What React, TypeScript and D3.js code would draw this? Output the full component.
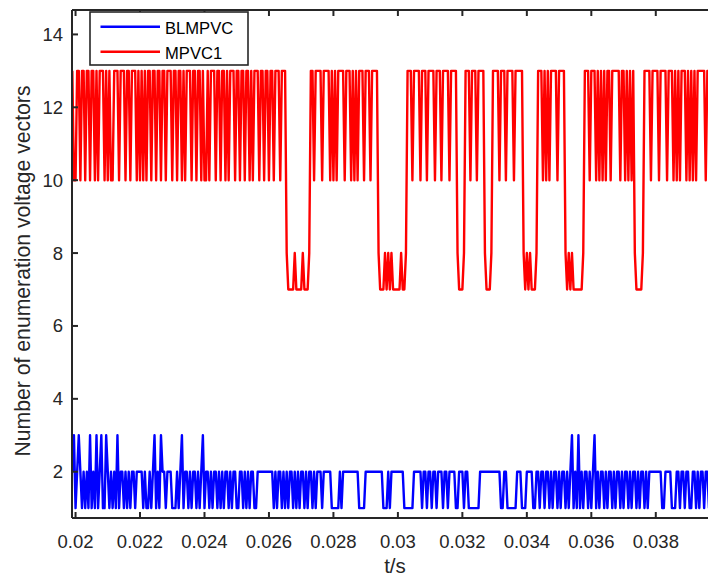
import React from "react";
import * as d3 from "d3";

// time axis: uniform sampling
const tStart = 0.0199;
const tStep = 0.00005;

const blmpvc = [
  2,3,1,2,3,2,1,2,1,2,
  1,3,1,2,1,3,1,2,3,1,
  1,3,2,1,2,1,2,1,3,1,
  2,2,1,2,1,2,1,2,2,1,
  2,2,2,2,1,2,1,1,2,1,
  2,3,1,2,1,3,2,2,1,2,
  2,2,1,1,1,2,1,2,3,1,
  2,2,1,2,1,2,2,1,2,1,
  2,3,1,2,2,1,2,1,2,2,
  1,2,1,2,1,2,2,1,2,1,
  2,2,1,1,2,2,1,2,1,2,
  1,2,2,1,1,2,2,2,2,2,
  2,2,2,2,2,1,2,1,2,2,
  1,2,1,2,1,2,2,1,2,1,
  2,1,2,2,1,2,1,2,2,1,
  2,1,2,2,2,1,2,2,2,2,
  2,1,1,1,1,1,2,1,2,2,
  2,2,2,2,2,2,2,2,1,1,
  1,1,2,2,2,2,2,2,2,2,
  2,2,2,1,1,1,2,1,2,2,
  2,2,2,2,2,2,1,1,1,1,
  1,1,2,2,2,2,2,1,2,2,
  1,2,2,1,2,2,1,2,2,2,
  1,2,2,1,2,2,2,2,1,1,
  2,2,2,1,2,2,1,1,1,1,
  1,1,1,2,2,2,2,2,2,2,
  2,2,2,2,2,2,1,1,2,2,
  1,1,1,1,1,1,2,2,2,1,
  1,1,2,2,2,2,1,1,2,2,
  1,2,2,1,2,2,1,2,1,2,
  2,1,2,1,2,2,1,2,1,2,
  3,1,2,1,3,1,2,1,2,2,
  1,2,1,2,3,1,2,1,2,2,
  1,2,1,2,2,1,2,1,2,2,
  1,2,1,2,2,1,2,1,2,2,
  1,2,1,2,2,1,2,1,2,2,
  2,2,2,2,2,2,1,1,2,2,
  2,2,1,1,1,2,2,1,2,2,
  1,2,2,1,1,2,2,1,2,1,
  2,2,1,2,2,1,
];

const mpvc1 = [
  13,10,10,13,13,10,13,13,10,13,
  13,10,13,13,10,13,10,13,13,13,
  10,13,10,13,10,10,13,13,13,10,
  13,13,13,10,13,13,10,13,13,13,
  10,13,10,13,10,13,10,13,13,10,
  13,13,10,13,13,10,13,13,10,13,
  13,13,10,13,13,10,13,13,10,13,
  10,13,13,13,10,13,13,10,13,13,
  10,13,10,10,13,10,13,13,13,10,
  13,13,10,13,13,10,13,10,13,13,
  13,10,13,13,10,13,13,10,13,13,
  10,13,10,13,13,13,10,13,13,10,
  13,13,10,13,13,10,13,13,13,10,
  13,13,13,8,7,7,7,7,8,7,
  7,7,7,8,7,7,7,8,13,13,
  10,13,13,13,13,10,13,13,13,13,
  10,13,10,13,10,13,13,13,13,10,
  13,13,13,10,13,10,13,10,13,13,
  13,10,13,13,13,10,13,13,13,13,
  8,7,7,7,8,7,8,7,8,7,
  7,7,7,7,8,7,7,8,13,13,
  13,10,13,13,13,13,10,13,13,13,
  10,13,13,13,13,10,13,13,13,10,
  13,13,13,13,10,13,13,13,13,8,
  7,7,7,8,13,13,13,10,13,13,
  13,10,13,13,13,13,8,7,7,7,
  8,13,13,13,13,10,13,13,13,10,
  13,13,13,13,10,13,13,13,13,13,
  8,7,8,7,8,7,7,7,8,13,
  13,13,10,13,10,13,10,13,13,13,
  13,10,13,13,13,13,8,7,8,7,
  8,7,7,7,7,7,7,8,13,13,
  13,10,13,13,13,10,13,10,13,10,
  13,10,13,13,10,13,13,13,13,13,
  10,13,13,10,13,10,13,10,13,8,
  7,7,7,7,8,13,13,13,13,10,
  13,13,13,13,10,13,13,13,13,10,
  13,13,13,10,13,10,13,10,13,13,
  13,10,13,10,13,10,13,10,13,13,
  13,13,13,10,13,13,
];

const seriesNames = ["BLMPVC", "MPVC1"];
const seriesColors = ["#0000ff", "#ff0000"];
const xTicks = [0.02, 0.022, 0.024, 0.026, 0.028, 0.03, 0.032, 0.034, 0.036, 0.038];
const xTickLabels = ["0.02", "0.022", "0.024", "0.026", "0.028", "0.03", "0.032", "0.034", "0.036", "0.038"];
const yTicks = [2, 4, 6, 8, 10, 12, 14];
const xLabel = "t/s";
const yLabel = "Number of enumeration voltage vectors";

const FONT = "'Liberation Sans', Arial, Helvetica, sans-serif";
const AX = "#262626";

export default function App() {
  const W = 708, H = 577;
  const L = 72, R = 718, T = 10, B = 518;
  const x = d3.scaleLinear().domain([0.01989, 0.03993]).range([L, R]);
  const y = d3.scaleLinear().domain([0.73, 14.67]).range([B, T]);
  const line = d3
    .line<number>()
    .x((_, i) => x(tStart + i * tStep))
    .y((d) => y(d));
  const series = [blmpvc, mpvc1];
  const tickLen = 6;

  return (
    <svg
      width={W}
      height={H}
      viewBox={`0 0 ${W} ${H}`}
      style={{ position: "absolute", left: 0, top: 0, display: "block", background: "#fff" }}
    >
      <rect x={0} y={0} width={W} height={H} fill="#fff" />
      <defs>
        <clipPath id="plotclip">
          <rect x={L} y={T} width={R - L} height={B - T} />
        </clipPath>
      </defs>
      <g clipPath="url(#plotclip)">
        {series.map((s, k) => (
          <path
            key={k}
            d={line(s) || ""}
            fill="none"
            stroke={seriesColors[k]}
            strokeWidth={2.4}
            strokeLinejoin="round"
          />
        ))}
      </g>
      {/* axes box */}
      <g stroke={AX} strokeWidth={2} fill="none">
        <line x1={L} y1={T} x2={L} y2={B} />
        <line x1={L} y1={B} x2={R} y2={B} />
        <line x1={L} y1={T} x2={R} y2={T} />
        <line x1={R} y1={T} x2={R} y2={B} />
        {xTicks.map((t, i) => (
          <g key={"xt" + i}>
            <line x1={x(t)} x2={x(t)} y1={B} y2={B - tickLen} />
            <line x1={x(t)} x2={x(t)} y1={T} y2={T + tickLen} />
          </g>
        ))}
        {yTicks.map((v, i) => (
          <g key={"yt" + i}>
            <line x1={L} x2={L + tickLen} y1={y(v)} y2={y(v)} />
            <line x1={R} x2={R - tickLen} y1={y(v)} y2={y(v)} />
          </g>
        ))}
      </g>
      <g fontFamily={FONT} fontSize={18.5} fill={AX}>
        {xTicks.map((t, i) => (
          <text key={"xl" + i} x={x(t)} y={548} textAnchor="middle">
            {xTickLabels[i]}
          </text>
        ))}
        {yTicks.map((v, i) => (
          <text key={"yl" + i} x={63} y={y(v)} textAnchor="end" dominantBaseline="central">
            {String(v)}
          </text>
        ))}
      </g>
      <text x={(L + R) / 2} y={573} textAnchor="middle" fontFamily={FONT} fontSize={20.5} fill={AX}>
        {xLabel}
      </text>
      <text
        transform={`translate(30, 271) rotate(-90)`}
        textAnchor="middle"
        fontFamily={FONT}
        fontSize={21.2}
        fill={AX}
      >
        {yLabel}
      </text>
      {/* legend */}
      <g>
        <rect x={90} y={12} width={158} height={53} fill="#fff" stroke={AX} strokeWidth={1.6} />
        {seriesNames.map((n, k) => (
          <g key={"lg" + k}>
            <line
              x1={100.5}
              x2={160}
              y1={26.7 + k * 25}
              y2={26.7 + k * 25}
              stroke={seriesColors[k]}
              strokeWidth={2.4}
            />
            <text x={165} y={34 + k * 25.3} fontFamily={FONT} fontSize={16.6} fill="#000">
              {n}
            </text>
          </g>
        ))}
      </g>
    </svg>
  );
}
